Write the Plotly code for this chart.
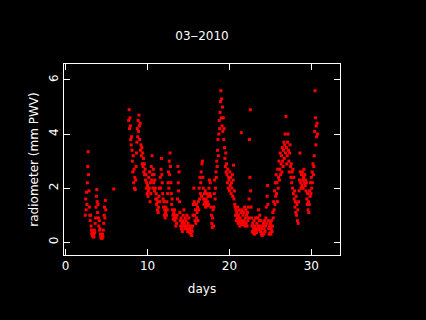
import numpy as np
import plotly.graph_objects as go

# ---- data ----
SAMPLE_STEP = 0.05  # days between radiometer samples

seg_a_start = 2.40
seg_a_vals = [1.0, 1.6, 1.2, 1.85, 1.4, 2.2, 2.8, 3.35, 2.5, 1.9, 1.3, 1.0, 0.8, 1.0, 0.6, 0.45,
              0.3, 0.35, 0.25, 0.2, 0.3, 0.2, 0.45, 0.35, 0.7, 0.9, 1.3, 1.7, 1.95, 1.5, 1.1, 1.4,
              0.9, 0.6, 0.8, 0.45, 0.5, 0.3, 0.2, 0.15, 0.25, 0.15, 0.3, 0.2, 0.45, 0.7, 1.0, 1.3,
              0.9, 1.55, 1.2]

single_day = [5.87]
single_val = [1.97]

seg_c_start = 7.70
seg_c_vals = [
    4.5, 4.9, 4.2, 4.6, 4.3, 3.8, 3.6, 3.9, 3.4, 3.0, 2.6, 3.2, 2.2, 2.7, 2.0, 2.4, 1.95, 2.3, 2.8, 3.3,
    3.7, 4.2, 3.9, 4.5, 4.1, 4.7, 4.3, 3.8, 4.4, 3.4, 3.6, 3.2, 3.5, 2.9, 3.3, 2.8, 3.1, 2.6, 2.9, 2.5,
    2.7, 2.3, 2.5, 2.0, 2.2, 1.8, 2.1, 1.7, 1.9, 2.4, 2.0, 2.6, 1.5, 2.2, 1.8, 2.8, 2.3, 3.2, 2.5, 2.0,
    2.7, 2.2, 2.5, 1.9, 2.3, 2.0, 1.6, 1.8, 1.4, 1.6, 1.2, 1.5, 1.1, 1.3, 1.7, 2.0, 1.5, 2.4, 2.0, 2.7,
    3.1, 2.5, 2.2, 1.8, 1.6, 1.3, 1.5, 1.0, 1.2, 0.9, 1.1, 1.3, 1.0, 1.5, 1.2, 1.8, 2.2, 2.6, 2.0, 3.0,
    2.5, 3.3, 2.8, 2.2, 1.8, 1.4, 1.6, 1.2, 1.0, 0.85, 1.1, 0.9, 1.2, 0.8, 1.0, 0.6, 0.9, 0.7, 1.0, 1.6,
    2.8, 2.2, 1.9, 2.6, 1.5, 1.1, 0.8, 0.6, 0.9, 0.5, 0.7, 0.4, 0.8, 1.0, 0.6, 1.2, 0.7, 0.5, 0.9, 0.6,
    0.8, 0.5, 1.0, 0.6, 0.4, 0.7, 0.45, 0.9, 0.5, 0.35, 0.6, 0.4, 0.3, 0.5, 0.25, 0.4, 0.6, 1.0, 1.4, 2.0,
    1.5, 1.0, 0.8, 1.2, 0.7, 1.4, 0.9, 1.1, 1.3, 0.8, 1.5, 1.2, 2.0, 1.6, 2.4, 1.8, 2.2, 2.6, 1.7, 2.9,
    3.0, 2.4, 2.0, 1.6, 1.4, 1.8, 1.5, 1.9, 1.3, 1.6, 1.4, 1.8, 1.5, 1.35, 1.7, 1.4, 2.0, 2.3, 1.8, 2.2,
    1.7, 1.3, 1.0, 0.7, 0.55, 0.9, 1.2, 0.6, 1.3, 1.8, 2.3, 1.6, 2.0, 2.6, 2.4, 3.0, 2.8, 3.4, 3.8, 3.2,
    4.0, 4.5, 4.2, 4.8, 5.2, 5.6, 4.6, 5.3, 4.3, 5.0, 4.1, 4.6, 3.8, 4.2, 3.5, 3.1, 2.8, 3.3, 2.6, 2.9,
    2.5, 2.2, 2.7, 2.0, 2.4, 2.3, 1.9, 2.6, 2.1, 2.4, 1.8, 2.2, 2.0, 2.5, 1.7, 2.3, 2.85, 1.6, 1.9, 1.4,
    1.3, 1.0, 1.2, 0.8, 1.1, 0.9, 1.3, 0.7, 1.0, 0.8, 1.2, 0.6, 0.9, 0.7, 1.1, 4.05, 0.8, 1.2, 0.65, 1.0,
    0.7, 1.1, 0.8, 1.3, 0.6, 0.9, 1.2, 0.7, 1.0, 0.6, 1.1, 0.8, 1.3, 0.9, 1.6, 3.8, 2.4, 4.9, 1.9, 1.3,
    0.9, 0.6, 0.4, 0.7, 0.35, 0.5, 0.8, 0.3, 0.6, 0.4, 0.9, 0.5, 0.35, 0.7, 0.45, 0.9, 0.6, 1.2, 0.5, 0.8,
    1.0, 0.6, 0.4, 0.8, 0.3, 0.5, 0.25, 0.6, 0.35, 0.7, 0.3, 0.5, 0.8, 0.4, 0.6, 0.9, 1.3, 0.7, 1.7, 2.1,
    1.4, 0.8, 0.5, 0.3, 0.6, 0.35, 0.7, 0.3, 0.5, 0.8, 0.4, 0.6, 1.1, 0.9, 1.5, 1.2, 1.9, 1.4, 2.2, 1.7,
    2.5, 1.8, 2.2, 1.5, 2.7, 2.0, 2.4, 3.0, 2.3, 2.7, 3.3, 2.5, 2.9, 3.2, 2.6, 3.5, 3.0, 2.8, 3.4, 3.7,
    3.1, 3.6, 4.0, 3.3, 4.65, 3.5, 2.9, 3.2, 3.7, 4.0, 3.4, 3.0, 2.6, 3.3, 3.6, 2.8, 2.4, 2.9, 2.2, 2.6,
    2.0, 2.7, 1.8, 2.4, 1.6, 1.9, 1.3, 1.5, 1.1, 1.7, 1.0, 1.4, 0.8, 1.2, 0.7, 1.5, 1.9, 2.3, 3.3, 2.6,
    2.2, 2.0, 2.5, 2.1, 2.6, 2.3, 2.0, 2.4, 2.7, 2.2, 2.5, 2.1, 2.3, 1.9, 2.2, 1.6, 1.4, 1.8, 1.2, 1.5,
    1.1, 1.4, 1.9, 1.7, 2.2, 1.8, 2.4, 2.0, 2.6, 2.2, 2.9, 2.5, 2.8, 3.2, 4.1, 5.6, 4.6, 3.6, 4.3, 3.9,
    4.4, 4.0,
]

x_ticks = [0, 10, 20, 30]
y_ticks = [0, 2, 4, 6]

# ---- assemble series ----
days = np.concatenate([
    seg_a_start + SAMPLE_STEP * np.arange(len(seg_a_vals)),
    np.array(single_day),
    seg_c_start + SAMPLE_STEP * np.arange(len(seg_c_vals)),
])
pwv = np.concatenate([seg_a_vals, single_val, seg_c_vals])

FONT = "DejaVu Sans"

fig = go.Figure(go.Scatter(
    x=days, y=pwv, mode="markers",
    marker=dict(symbol="square", size=3, color="#ff0000", line=dict(width=0)),
    hoverinfo="skip",
))

axis_common = dict(
    showline=True, linecolor="white", linewidth=1, mirror="ticks",
    ticks="inside", ticklen=6, tickcolor="white", tickwidth=1,
    showgrid=False, zeroline=False,
    tickfont=dict(family=FONT, size=12, color="white"),
)

fig.update_layout(
    width=426, height=320,
    paper_bgcolor="black", plot_bgcolor="black",
    margin=dict(l=64, r=86, t=64, b=65),
    showlegend=False,
    title=dict(text="03\u20122010", x=202 / 426, xanchor="center", y=1 - 36 / 320, yanchor="middle",
               font=dict(family=FONT, size=12, color="white")),
    xaxis=dict(range=[-0.2, 33.5], tickvals=x_ticks, ticktext=[str(t) for t in x_ticks],
               title=dict(text="days", font=dict(family=FONT, size=12, color="white"), standoff=12),
               **axis_common),
    yaxis=dict(range=[-0.47, 6.59], tickvals=y_ticks, ticktext=[str(t) for t in y_ticks],
               tickangle=-90,
               title=dict(text="radiometer (mm PWV)", font=dict(family=FONT, size=12, color="white"),
                          standoff=6),
               **axis_common),
)

fig.write_html(
    "out.html",
    config={"displayModeBar": False},
    post_script="document.body.style.margin='0';document.body.style.background='black';"
                "document.documentElement.style.background='black';",
)
